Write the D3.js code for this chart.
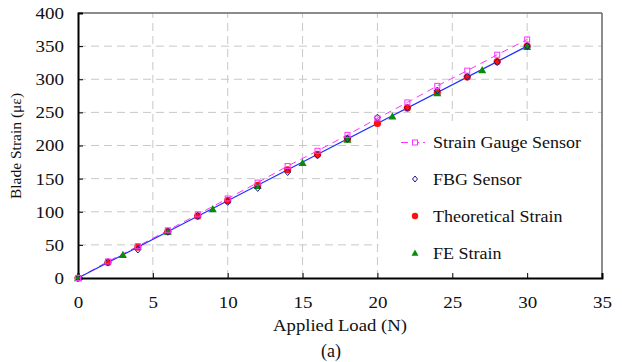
<!DOCTYPE html>
<html><head><meta charset="utf-8">
<script src="https://cdn.jsdelivr.net/npm/d3@7"></script>
<style>
body{margin:0;background:#fff;}
</style></head>
<body><svg id="c" width="622" height="362"></svg>
<script>
const xTicks = [0,5,10,15,20,25,30,35];
const yTicks = [0,50,100,150,200,250,300,350,400];
const loadEven = [0,2,4,6,8,10,12,14,16,18,20,22,24,26,28,30];
const strainGauge = [0,25,48,72,96,120,144,169,192,216,241,265,290,313,337,360];
const fbgSensor = [0,24,43,70,94,115,136,160,185,210,242,257,283,304,326,350];
const theoretical = [0,23.3,46.7,70,93.3,116.7,140,163.3,186.7,210,233.3,256.7,280,303.3,326.7,350];
const loadFE = [0,3,6,9,12,15,18,21,24,27,30];
const feStrain = [0,35,70,104,139,174,209,244,279,314,349];
const fitLoad = [0,30];
const fitStrain = [0,350];
const legendLabels = ["Strain Gauge Sensor","FBG Sensor","Theoretical Strain","FE Strain"];

const FONT = "'Liberation Serif','Times New Roman',serif";
const svg = d3.select("#c");
const L=78,R=602,T=13,B=278;
const x = d3.scaleLinear().domain([0,35]).range([L,R]);
const y = d3.scaleLinear().domain([0,400]).range([B,T]);

// grid
const g = svg.append("g");
xTicks.slice(1,-1).forEach(v=>g.append("line").attr("x1",x(v)).attr("x2",x(v)).attr("y1",B).attr("y2",T)
  .attr("stroke","#c8c8c8").attr("stroke-dasharray","8,5").attr("stroke-width",1));
yTicks.slice(1,-1).forEach(v=>g.append("line").attr("x1",L).attr("x2",R).attr("y1",y(v)).attr("y2",y(v))
  .attr("stroke","#c8c8c8").attr("stroke-dasharray","8,5").attr("stroke-width",1));

// frame top/right
svg.append("line").attr("x1",L).attr("x2",R).attr("y1",T).attr("y2",T).attr("stroke","#666").attr("stroke-width",1.5);
svg.append("line").attr("x1",R).attr("x2",R).attr("y1",T).attr("y2",B).attr("stroke","#666").attr("stroke-width",1.5);

// legend box background
const legX0 = x(20)+1, legY0 = 121;
svg.append("rect").attr("x",legX0).attr("y",legY0).attr("width",R-legX0-1).attr("height",B-legY0).attr("fill","#fff");

// axes
const xAxis = d3.axisBottom(x).tickValues(xTicks).tickSize(-5).tickPadding(18);
const yAxis = d3.axisLeft(y).tickValues(yTicks).tickSize(-5).tickPadding(0);
const gx = svg.append("g").attr("transform",`translate(0,${B})`).call(xAxis);
const gy = svg.append("g").attr("transform",`translate(${L},0)`).call(yAxis);
[gx,gy].forEach(a=>{
  a.attr("font-family",null).attr("font-size",null);
  a.select(".domain").attr("stroke","#000").attr("stroke-width",2);
  a.selectAll(".tick line").attr("stroke","#000").attr("stroke-width",1);
  a.selectAll(".tick text").style("font-size","17px").style("font-family",FONT).attr("fill","#111");
});
gx.selectAll(".tick text").attr("transform","scale(1.12,1)");
gy.selectAll(".tick text").attr("x",0).attr("transform","translate(-14,0) scale(1.12,1)");
gx.selectAll(".tick").filter(d=>d===0||d===35).select("line").remove();
gy.selectAll(".tick").filter(d=>d===0||d===400).select("line").remove();

// lines
const line = d3.line().x(d=>x(d[0])).y(d=>y(d[1]));
svg.append("path").datum(loadEven.map((v,i)=>[v,strainGauge[i]])).attr("d",line)
  .attr("fill","none").attr("stroke","#ff33ff").attr("stroke-width",1).attr("stroke-dasharray","7,5");
svg.append("path").datum(fitLoad.map((v,i)=>[v,fitStrain[i]])).attr("d",line)
  .attr("fill","none").attr("stroke","#1f2fff").attr("stroke-width",1.2);

// markers
function tri(cx,cy,s){return `M${cx},${cy-s}L${cx+s},${cy+s*0.8}L${cx-s},${cy+s*0.8}Z`;}
svg.append("g").selectAll("circle").data(loadEven.map((v,i)=>[v,theoretical[i]])).join("circle")
  .attr("cx",d=>x(d[0])).attr("cy",d=>y(d[1])).attr("r",3.6).attr("fill","#ff1010");
svg.append("g").selectAll("path").data(loadFE.map((v,i)=>[v,feStrain[i]])).join("path")
  .attr("d",d=>tri(x(d[0]),y(d[1]),4)).attr("fill","#0a8a0a");
svg.append("g").selectAll("path").data(loadEven.map((v,i)=>[v,fbgSensor[i]])).join("path")
  .attr("d",d=>{const cx=x(d[0]),cy=y(d[1]);return `M${cx},${cy-3.5}L${cx+3},${cy}L${cx},${cy+3.5}L${cx-3},${cy}Z`;})
  .attr("fill","none").attr("stroke","#1a1a8c").attr("stroke-width",1);
svg.append("g").selectAll("rect").data(loadEven.map((v,i)=>[v,strainGauge[i]])).join("rect")
  .attr("x",d=>x(d[0])-2.5).attr("y",d=>y(d[1])-2.5).attr("width",5).attr("height",5)
  .attr("fill","none").attr("stroke","#ff33ff").attr("stroke-width",1);

// legend
const lx=415, rows=[142.5,179,216,253];
const legendWidths=[148,88,118,68];
const lg = svg.append("g");
lg.append("line").attr("x1",401).attr("x2",425).attr("y1",rows[0]).attr("y2",rows[0]).attr("stroke","#ff33ff").attr("stroke-dasharray","7,4");
lg.append("rect").attr("x",lx-2.5).attr("y",rows[0]-2.5).attr("width",5).attr("height",5).attr("fill","#fff").attr("stroke","#ff33ff");
lg.append("path").attr("d",`M${lx},${rows[1]-3}L${lx+2.5},${rows[1]}L${lx},${rows[1]+3}L${lx-2.5},${rows[1]}Z`).attr("fill","none").attr("stroke","#1a1a8c");
lg.append("circle").attr("cx",lx).attr("cy",rows[2]).attr("r",3.2).attr("fill","#ff1010");
lg.append("path").attr("d",tri(lx,rows[3],3.5)).attr("fill","#0a8a0a");
legendLabels.forEach((t,i)=>lg.append("text").attr("x",0).attr("y",0).attr("dy","0.35em")
  .attr("transform",`translate(433,${rows[i]}) scale(1.06,1)`)
  .style("font-size","17px").style("font-family",FONT).attr("fill","#111").text(t));

// axis titles
svg.append("text").attr("x",0).attr("y",0).attr("dy","0.35em").attr("text-anchor","middle")
  .attr("transform","translate(340,325) scale(1.1,1)")
  .style("font-size","17px").style("font-family",FONT).attr("fill","#111").text("Applied Load (N)");
svg.append("text").attr("x",331).attr("y",351).attr("dy","0.35em").attr("text-anchor","middle")
  .style("font-size","18px").style("font-family",FONT).attr("fill","#111").text("(a)");
svg.append("text").attr("transform","translate(15.5,146) rotate(-90)").attr("dy","0.35em").attr("text-anchor","middle")
  .style("font-size","15.5px").style("font-family",FONT).attr("fill","#111").text("Blade Strain (\u03bc\u03b5)");
</script></body></html>
